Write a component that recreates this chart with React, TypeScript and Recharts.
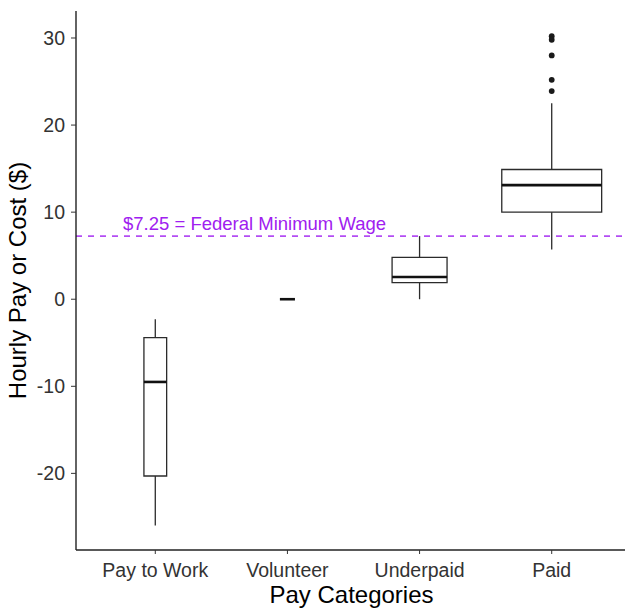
import {
  ComposedChart,
  XAxis,
  YAxis,
  Scatter,
  ReferenceArea,
  ReferenceLine,
} from 'recharts';

// Box plot summaries per pay category
const categories = ['Pay to Work', 'Volunteer', 'Underpaid', 'Paid'];
const whiskerLow = [-26.0, 0, 0, 5.7];
const lowerQuartile = [-20.3, 0, 1.9, 10.0];
const median = [-9.5, 0, 2.55, 13.1];
const upperQuartile = [-4.4, 0, 4.8, 14.9];
const whiskerHigh = [-2.3, 0, 7.25, 22.5];

// Outlying points above the Paid whisker
const paidOutliers = [30.2, 29.8, 28.0, 25.2, 23.9];

const yTicks = [-20, -10, 0, 10, 20, 30];
const minimumWage = 7.25;
const minimumWageLabel = '$7.25 = Federal Minimum Wage';

// box widths (x units), scaled by group size
const BOX_WIDTHS = [0.172, 0.114, 0.416, 0.756];

const FONT = '"Liberation Sans", Arial, sans-serif';
const PURPLE = '#a020f0';
const BOX_STROKE = '#2b2b2b';

const outlierData = paidOutliers.map((y) => ({ x: 4, y }));

const XTitle = ({ viewBox }: any) => {
  const cx = viewBox.x + viewBox.width / 2 - 2;
  return (
    <text x={cx} y={603} textAnchor="middle" fontFamily={FONT} fontSize={24} fill="#000">
      Pay Categories
    </text>
  );
};

const YTitle = ({ viewBox }: any) => {
  const cx = 26;
  const cy = viewBox.y + viewBox.height / 2;
  return (
    <text
      x={cx}
      y={cy}
      transform={`rotate(-90 ${cx} ${cy})`}
      textAnchor="middle"
      fontFamily={FONT}
      fontSize={24}
      fill="#000"
    >
      Hourly Pay or Cost ($)
    </text>
  );
};

const WageLabel = ({ viewBox }: any) => (
  <text
    x={viewBox.x + 47}
    y={viewBox.y - 6}
    fontFamily={FONT}
    fontSize={18.5}
    fill={PURPLE}
  >
    {minimumWageLabel}
  </text>
);

export default function App() {
  return (
    <div style={{ position: 'absolute', left: 0, top: 0, width: 625, height: 610, overflow: 'hidden', background: '#fff' }}>
      <ComposedChart width={631} height={610} margin={{ top: 11, right: 0, bottom: 0, left: 0 }}>
        <XAxis
          type="number"
          dataKey="x"
          domain={[0.4, 4.6]}
          ticks={[1, 2, 3, 4]}
          tickFormatter={(v: number) => categories[v - 1]}
          height={60}
          tickSize={4}
          tickMargin={9}
          axisLine={{ stroke: '#222', strokeWidth: 1.4 }}
          tickLine={{ stroke: '#333', strokeWidth: 1 }}
          tick={{ fontFamily: FONT, fontSize: 19.5, fill: '#333' }}
          allowDataOverflow
          label={<XTitle />}
        />
        <YAxis
          type="number"
          dataKey="y"
          domain={[-28.8, 33.1]}
          ticks={yTicks}
          width={76}
          tickSize={5}
          tickMargin={6}
          axisLine={{ stroke: '#222', strokeWidth: 1.4 }}
          tickLine={{ stroke: '#333', strokeWidth: 1 }}
          tick={{ fontFamily: FONT, fontSize: 19.5, fill: '#333' }}
          allowDataOverflow
          label={<YTitle />}
        />

        {categories.map((c, i) => {
          const x = i + 1;
          const half = BOX_WIDTHS[i] / 2;
          return [
            <ReferenceLine
              key={`wl-${c}`}
              segment={[{ x, y: whiskerLow[i] }, { x, y: lowerQuartile[i] }]}
              stroke={BOX_STROKE}
              strokeWidth={1.3}
            />,
            <ReferenceLine
              key={`wh-${c}`}
              segment={[{ x, y: upperQuartile[i] }, { x, y: whiskerHigh[i] }]}
              stroke={BOX_STROKE}
              strokeWidth={1.3}
            />,
            <ReferenceArea
              key={`box-${c}`}
              x1={x - half}
              x2={x + half}
              y1={lowerQuartile[i]}
              y2={upperQuartile[i]}
              fill="#fff"
              fillOpacity={1}
              stroke={BOX_STROKE}
              strokeWidth={1.3}
            />,
            <ReferenceLine
              key={`med-${c}`}
              segment={[{ x: x - half, y: median[i] }, { x: x + half, y: median[i] }]}
              stroke="#111"
              strokeWidth={2.6}
            />,
          ];
        })}

        <ReferenceLine
          y={minimumWage}
          stroke={PURPLE}
          strokeOpacity={0.8}
          strokeWidth={1.6}
          strokeDasharray="6 6"
          label={<WageLabel />}
        />

        <Scatter
          data={outlierData}
          isAnimationActive={false}
          shape={(p: any) => <circle cx={p.cx} cy={p.cy} r={2.9} fill="#1a1a1a" />}
        />
      </ComposedChart>
    </div>
  );
}
